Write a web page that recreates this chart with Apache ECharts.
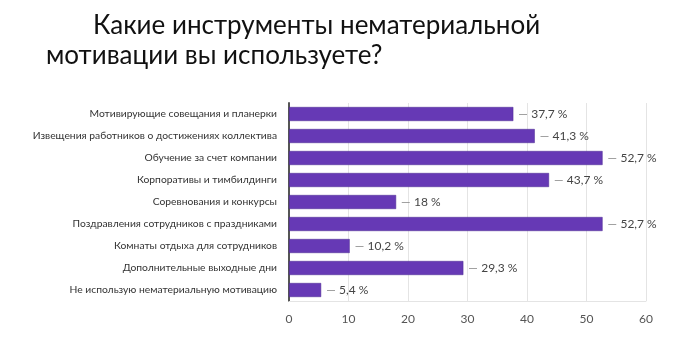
<!DOCTYPE html>
<html><head><meta charset="utf-8">
<script src="https://cdn.jsdelivr.net/npm/echarts@6/dist/echarts.min.js"></script>
<style>html,body{margin:0;padding:0;background:#fff}#c{width:700px;height:339px}</style>
</head><body><div id="c"></div>
<script>
const titleLine1 = 'Какие инструменты нематериальной';
const titleLine2 = 'мотивации вы используете?';
const categories = [
  'Мотивирующие совещания и планерки',
  'Извещения работников о достижениях коллектива',
  'Обучение за счет компании',
  'Корпоративы и тимбилдинги',
  'Соревнования и конкурсы',
  'Поздравления сотрудников с праздниками',
  'Комнаты отдыха для сотрудников',
  'Дополнительные выходные дни',
  'Не использую нематериальную мотивацию'
];
const values = [37.7, 41.3, 52.7, 43.7, 18, 52.7, 10.2, 29.3, 5.4];
const xTicks = [0, 10, 20, 30, 40, 50, 60];

const chart = echarts.init(document.getElementById('c'));
chart.setOption({
  animation: false,
  graphic: [
    {type:'text', left:93, top:13, style:{text:titleLine1, font:'26px Lato', fill:'#111'}},
    {type:'text', left:46, top:43, style:{text:titleLine2, font:'26px Lato', fill:'#111'}}
  ],
  grid: {left:289, right:54, top:103, bottom:38, containLabel:false},
  xAxis: {
    type:'value', min:xTicks[0], max:xTicks[xTicks.length-1], interval:10,
    axisLine:{show:true, lineStyle:{color:'#e4e4e4'}},
    axisTick:{show:false},
    splitLine:{show:true, lineStyle:{color:'#e4e4e4', width:1}},
    axisLabel:{color:'#555', fontSize:12, fontFamily:'Lato', margin:12}
  },
  yAxis: {
    type:'category', data:categories, inverse:true,
    axisLine:{show:true, lineStyle:{color:'#555', width:2}},
    axisTick:{show:false},
    axisLabel:{color:'#333', fontSize:10.3, fontFamily:'Lato', margin:12}
  },
  series: [{
    type:'bar', data:values, barWidth:14,
    itemStyle:{color:'#6639b5', borderColor:'#4a2890', borderWidth:0.5},
    label:{
      show:true, position:'right', distance:5,
      formatter: p => '{d|—} {v|' + String(p.value).replace('.', ',') + ' %}',
      rich:{
        d:{color:'#888', fontSize:12, fontFamily:'Lato'},
        v:{color:'#444', fontSize:12, fontFamily:'Lato'}
      }
    }
  }]
});
</script></body></html>
